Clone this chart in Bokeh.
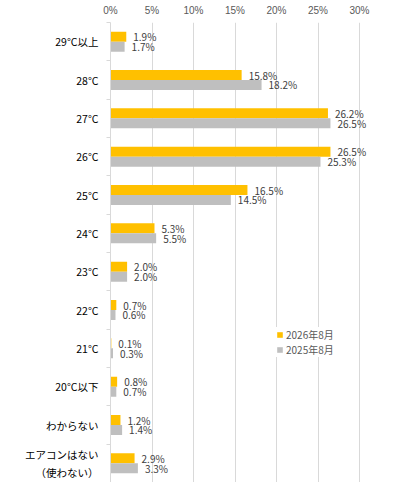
from bokeh.plotting import figure
from bokeh.models import Range1d, LinearAxis, FixedTicker, PrintfTickFormatter, ColumnDataSource, Legend, LegendItem
from bokeh.core.properties import value
from bokeh.embed import file_html
from bokeh.resources import INLINE

categories = ["29°C以上", "28°C", "27°C", "26°C", "25°C", "24°C", "23°C", "22°C",
              "21°C", "20°C以下", "わからない", "エアコンはない\n（使わない）"]
series_names = ["2026年8月", "2025年8月"]
values_2026 = [1.9, 15.8, 26.2, 26.5, 16.5, 5.3, 2.0, 0.7, 0.1, 0.8, 1.2, 2.9]
values_2025 = [1.7, 18.2, 26.5, 25.3, 14.5, 5.5, 2.0, 0.6, 0.3, 0.7, 1.4, 3.3]
x_ticks = [0, 5, 10, 15, 20, 25, 30]

FONT = "Noto Sans CJK JP"
NUM_FONT = "Liberation Sans"
YELLOW = "#FFC000"
GRAY = "#BFBFBF"
GRID = "#D9D9D9"

W, H = 386, 482
LEFT, TOP = 110, 22
AXIS_MAX = 30
AXIS_PX = 249  # pixel width of 0..30%
x_end = AXIS_MAX * (W - LEFT) / AXIS_PX

n = len(categories)
centers = [i + 0.5 for i in range(n)]
bar_h = 0.26
off = bar_h / 2

src26 = ColumnDataSource(dict(y=[c - off for c in centers], v=values_2026,
                              lab=[f"{v:.1f}%" for v in values_2026]))
src25 = ColumnDataSource(dict(y=[c + off for c in centers], v=values_2025,
                              lab=[f"{v:.1f}%" for v in values_2025]))

p = figure(width=W, height=H, output_backend="svg", toolbar_location=None,
           x_range=Range1d(0, x_end), y_range=Range1d(n, 0),
           x_axis_location=None, y_axis_location=None,
           min_border_left=LEFT, min_border_right=0, min_border_top=TOP, min_border_bottom=0)
p.outline_line_color = None
p.background_fill_color = "white"

xaxis = LinearAxis(ticker=FixedTicker(ticks=x_ticks), formatter=PrintfTickFormatter(format="%d%%"))
xaxis.axis_line_color = None
xaxis.major_tick_line_color = None
xaxis.minor_tick_line_color = None
xaxis.major_tick_out = 0
xaxis.major_label_standoff = 7
xaxis.major_label_text_font = NUM_FONT
xaxis.major_label_text_font_size = "10px"
xaxis.major_label_text_color = "#595959"
p.add_layout(xaxis, "above")

yaxis = LinearAxis(ticker=FixedTicker(ticks=centers, minor_ticks=list(range(n + 1))))
yaxis.major_label_overrides = {c: lab for c, lab in zip(centers, categories)}
yaxis.axis_line_color = GRID
yaxis.major_tick_line_color = None
yaxis.major_tick_out = 4
yaxis.major_tick_in = 0
yaxis.minor_tick_line_color = GRID
yaxis.minor_tick_out = 4
yaxis.minor_tick_in = 0
yaxis.major_label_standoff = 8
yaxis.major_label_text_font = FONT
yaxis.major_label_text_font_size = "10.5px"
yaxis.major_label_text_color = "#000000"
yaxis.major_label_text_align = "right"
p.add_layout(yaxis, "left")

p.xgrid.ticker = FixedTicker(ticks=x_ticks)
p.xgrid.grid_line_color = GRID
p.ygrid.grid_line_color = None

r26 = p.hbar(y="y", right="v", left=0, height=bar_h, source=src26,
             fill_color=YELLOW, line_color=None)
r25 = p.hbar(y="y", right="v", left=0, height=bar_h, source=src25,
             fill_color=GRAY, line_color=None)

for s in (src26, src25):
    p.text(x="v", y="y", text="lab", source=s, x_offset=7,
           text_align="left", text_baseline="middle",
           text_font=value(FONT), text_font_size="10px", text_color="#404040")

legend = Legend(items=[LegendItem(label=series_names[0], renderers=[r26]),
                       LegendItem(label=series_names[1], renderers=[r25])],
                location=(166, 125), orientation="vertical")
legend.border_line_color = None
legend.background_fill_color = "white"
legend.background_fill_alpha = 1.0
legend.glyph_width = 7
legend.glyph_height = 7
legend.label_height = 14
legend.label_standoff = 3
legend.spacing = 0
legend.padding = 2
legend.margin = 0
legend.label_text_font = FONT
legend.label_text_font_size = "10px"
legend.label_text_color = "#595959"
p.add_layout(legend, "center")

open("out.html", "w").write(file_html(p, INLINE))
